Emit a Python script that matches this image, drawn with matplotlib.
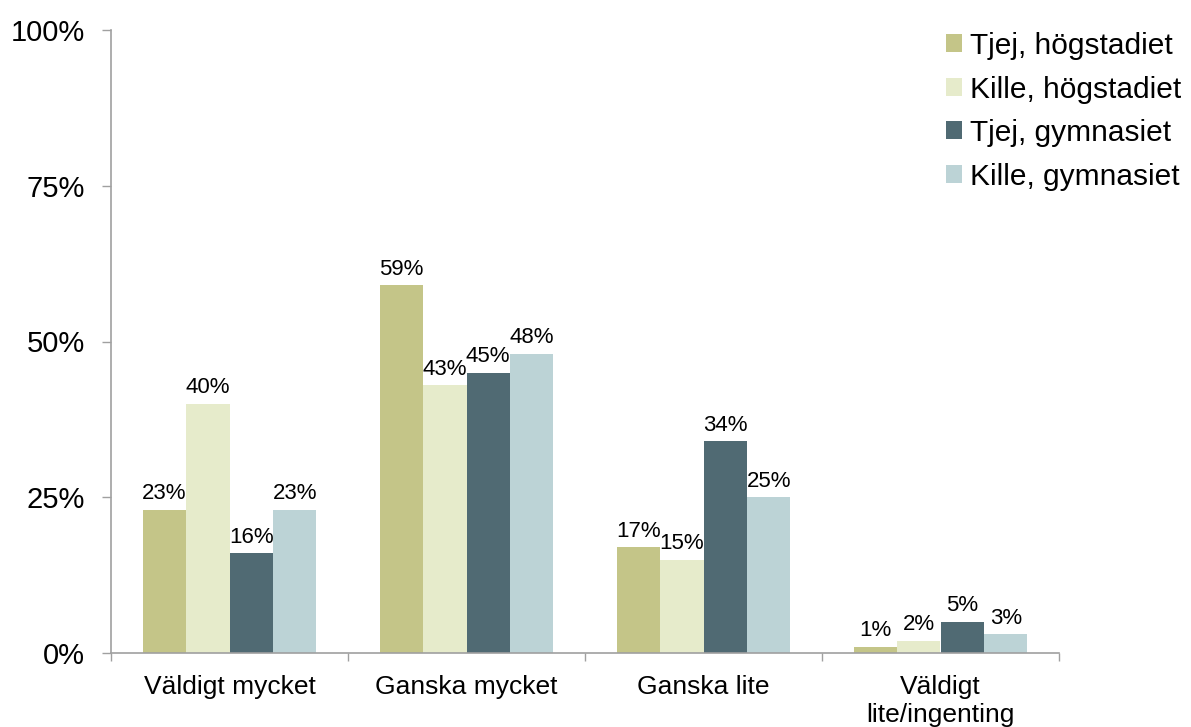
import matplotlib
matplotlib.use('Agg')
import matplotlib.pyplot as plt
import numpy as np

# Arial-liknande typsnitt
plt.rcParams['font.family'] = ['Liberation Sans', 'DejaVu Sans']

categories = ['Väldigt mycket', 'Ganska mycket', 'Ganska lite', 'Väldigt\nlite/ingenting']
series_names = ['Tjej, högstadiet', 'Kille, högstadiet', 'Tjej, gymnasiet', 'Kille, gymnasiet']
tjej_hog = [23, 59, 17, 1]
kille_hog = [40, 43, 15, 2]
tjej_gym = [16, 45, 34, 5]
kille_gym = [23, 48, 25, 3]
colors = ['#C4C588', '#E6EBCB', '#506A73', '#BCD3D6']
y_ticks = [0, 25, 50, 75, 100]

series = [tjej_hog, kille_hog, tjej_gym, kille_gym]

fig = plt.figure(figsize=(11.91, 7.27), dpi=100)
ax = fig.add_axes([111 / 1191, 1 - 653 / 727, 948 / 1191, 623 / 727])

x = np.arange(len(categories))
bar_w = 0.1835
for i, (vals, name, col) in enumerate(zip(series, series_names, colors)):
    pos = x + (i - 1.5) * bar_w
    bars = ax.bar(pos, vals, width=bar_w, color=col, label=name, zorder=2)
    for b, v in zip(bars, vals):
        ax.annotate(f'{v}%', (b.get_x() + b.get_width() / 2, v),
                    xytext=(0, 4), textcoords='offset points',
                    ha='center', va='bottom', fontsize=16)

# Axlar
ax.set_xlim(-0.5, len(categories) - 0.5)
ax.set_ylim(0, 100)
ax.set_yticks(y_ticks)
ax.set_yticklabels([f'{t}%' for t in y_ticks], fontsize=21)
ax.set_xticks(x)
ax.set_xticklabels(categories, fontsize=19)
ax.set_xticks(np.arange(len(categories) + 1) - 0.5, minor=True)
ax.tick_params(axis='x', which='major', length=0, pad=16)
ax.tick_params(axis='x', which='minor', length=6, width=1, color='#A0A0A0')
ax.tick_params(axis='y', length=6.5, width=1, color='#A0A0A0', pad=12)

for s in ['top', 'right']:
    ax.spines[s].set_visible(False)
for s in ['left', 'bottom']:
    ax.spines[s].set_color('#A0A0A0')
    ax.spines[s].set_linewidth(1.2)

leg = fig.legend(loc='upper left', bbox_to_anchor=(946 / 1191, 1 - 32 / 727),
                 frameon=False, fontsize=21.5, borderpad=0, borderaxespad=0,
                 handlelength=0.55, handleheight=0.55, handletextpad=0.25,
                 labelspacing=0.52)

plt.savefig('out.png', dpi=100)
plt.close()
